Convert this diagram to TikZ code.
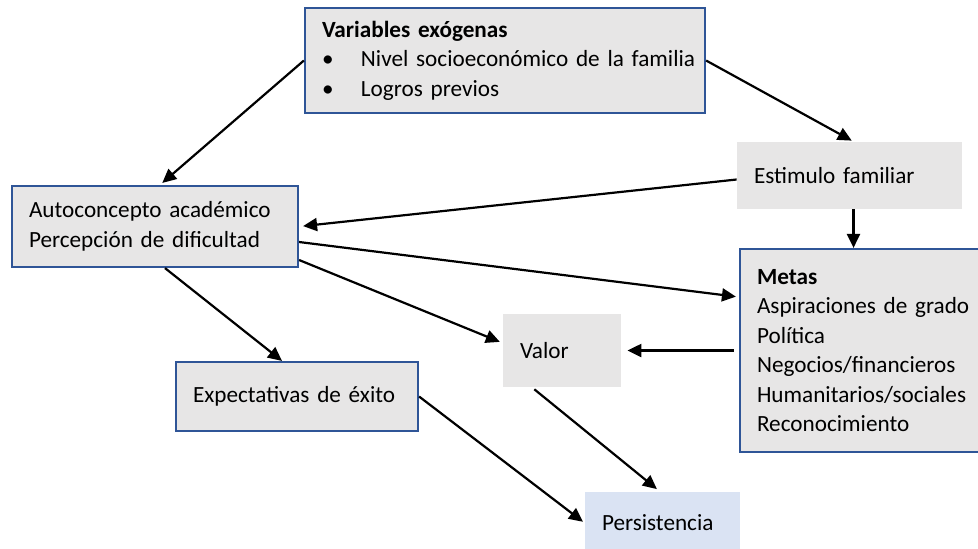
\documentclass[tikz,border=0pt]{standalone}
\usepackage{fontspec}
\setmainfont{Carlito}
\usetikzlibrary{arrows.meta}
\definecolor{frameblue}{HTML}{2F5597}
\definecolor{boxgrey}{HTML}{E7E6E6}
\definecolor{boxblue}{HTML}{DAE3F3}
\begin{document}
\begin{tikzpicture}[x=0.5pt,y=-0.5pt,
  every node/.style={font=\fontsize{11.6}{14.75}\selectfont, inner xsep=8.5pt, inner ysep=0pt, align=left},
  framed/.style={draw=frameblue, line width=1.1pt, fill=boxgrey},
  plain/.style={fill=boxgrey},
  link/.style={line width=1.1pt, -{Triangle[length=7pt,width=6.5pt]}}]
  \useasboundingbox (0,0) rectangle (978,548);
  \node[framed, minimum width=200pt, minimum height=52.5pt, text width=183pt] (var) at (505,60.5)
    {\textbf{Variables exógenas}\\
     \mbox{\makebox[19.5pt][l]{\textbullet}Nivel socioeconómico de la familia}\\
     \mbox{\makebox[19.5pt][l]{\textbullet}Logros previos}};
  \node[framed, minimum width=143pt, minimum height=40.5pt, text width=126pt] (auto) at (155,226.5)
    {Autoconcepto académico\\Percepción de dificultad};
  \node[plain, minimum width=112.5pt, minimum height=33.5pt, text width=95.5pt] (est) at (849.5,175.5)
    {Estimulo familiar};
  \node[framed, minimum width=130pt, minimum height=101.5pt, text width=113pt] (metas) at (870,350.5)
    {\textbf{Metas}\\Aspiraciones de grado\\Política\\Negocios/financieros\\Humanitarios/sociales\\Reconocimiento};
  \node[plain, minimum width=59pt, minimum height=36.5pt, text width=42pt] (valor) at (562,350.5)
    {Valor};
  \node[framed, minimum width=121pt, minimum height=34.5pt, text width=104pt] (expect) at (297,396.5)
    {Expectativas de éxito};
  \node[fill=boxblue, minimum width=77.5pt, minimum height=31pt, text width=60.5pt] (pers) at (662.5,523)
    {Persistencia};

  \draw[link, shorten >=1.5pt] (var.west) -- ([xshift=2.5pt]auto.north);
  \draw[link, shorten >=1pt] (var.east) -- ([xshift=2pt]est.north);
  \draw[link, shorten >=2pt] ([yshift=-2pt]est.west) -- (auto.east);
  \draw[link] ([xshift=2pt]est.south) -- ([xshift=-8.25pt]metas.north);
  \draw[link, shorten >=1.5pt] ([yshift=-7.75pt]auto.east) -- ([yshift=26.75pt]metas.west);
  \draw[link, shorten >=1.5pt] ([yshift=-16.75pt]auto.east) -- ([yshift=3.75pt]valor.west);
  \draw[link] ([xshift=5pt]auto.south) -- ([xshift=-7.5pt]expect.north);
  \draw[link, shorten <=2.5pt, shorten >=3pt] (metas.west) -- (valor.east);
  \draw[link, shorten <=1.5pt, shorten >=2pt] ([xshift=-15pt]valor.south) -- ([xshift=-1.25pt]pers.north);
  \draw[link, shorten >=1pt] (expect.east) -- (pers.west);
\end{tikzpicture}
\end{document}
